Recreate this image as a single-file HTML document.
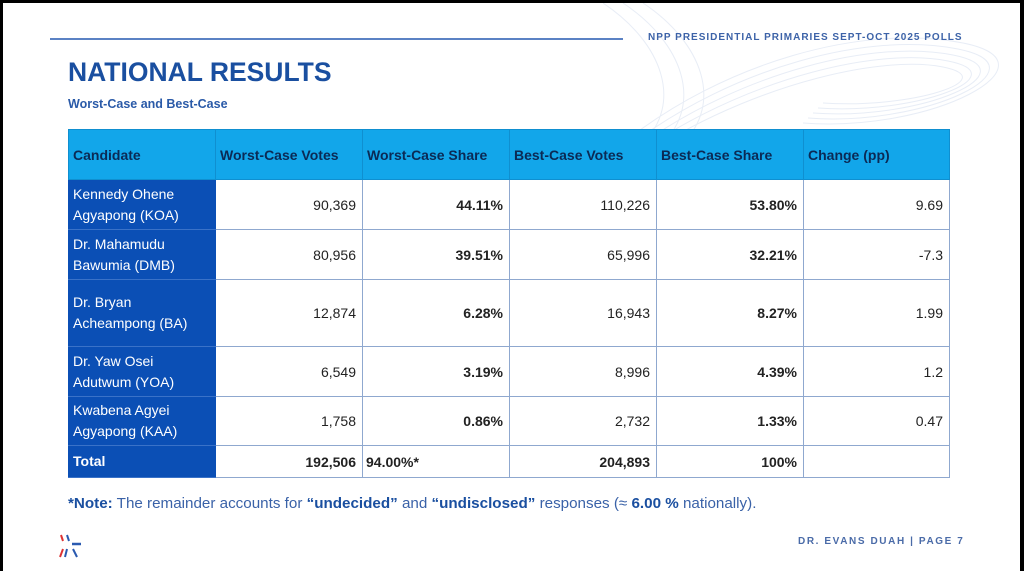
<!DOCTYPE html>
<html><head><meta charset="utf-8"><style>
*{margin:0;padding:0;box-sizing:border-box}
body{width:1024px;height:571px;background:#000;position:relative;overflow:hidden;font-family:"Liberation Sans",sans-serif}
#page{position:absolute;left:3px;top:3px;width:1017px;height:568px;background:#fff;overflow:hidden}
.abs{position:absolute}
table{position:absolute;left:65px;top:126px;border-collapse:collapse;width:882px}
td{border:1px solid #8fa8cf;font-size:14px;color:#222;padding:0 6px;text-align:right}
tr.h td{background:#12a6ea;color:#0b2a55;font-weight:bold;text-align:left;height:50px;border-color:#0f8fd0;padding-left:4px}
td.n{background:#0b4fb5;color:#fff;text-align:left;line-height:21px;border-color:#0b4fb5;border-bottom-color:#3a72c8;padding-left:4px}
b{font-weight:bold}
</style></head><body><div id="page">
<svg class="abs" style="left:600px;top:0" width="417" height="140">
<g fill="none" stroke="#e8edf6" stroke-width="1">
<path d="M20 140 C120 60 260 20 360 40 S330 130 200 120"/>
<path d="M30 140 C130 65 265 28 355 46 S325 124 205 115"/>
<path d="M40 140 C140 70 270 36 350 52 S320 118 210 110"/>
<path d="M50 140 C150 75 275 44 345 58 S315 112 215 105"/>
<path d="M60 140 C160 80 280 52 340 64 S310 106 220 100"/>
<path d="M0 0 C60 40 80 100 40 140"/>
<path d="M20 0 C80 40 100 100 60 140"/>
<path d="M40 0 C100 40 120 100 80 140"/>
</g></svg>
<div class="abs" style="left:47px;top:35px;width:573px;height:2px;background:#5b82c4"></div>
<div class="abs" style="left:645px;top:29px;font-size:10px;font-weight:bold;letter-spacing:1px;color:#3d63a8">NPP PRESIDENTIAL PRIMARIES SEPT-OCT 2025 POLLS</div>
<div class="abs" style="left:65px;top:54px;font-size:26.5px;font-weight:bold;color:#1a4fa0">NATIONAL RESULTS</div>
<div class="abs" style="left:65px;top:94px;font-size:12.5px;font-weight:bold;color:#2a5aa8">Worst-Case and Best-Case</div>
<table>
<tr class="h"><td style="width:147px">Candidate</td><td style="width:147px">Worst-Case Votes</td><td style="width:147px">Worst-Case Share</td><td style="width:147px">Best-Case Votes</td><td style="width:147px">Best-Case Share</td><td>Change (pp)</td></tr>
<tr style="height:50px"><td class="n">Kennedy Ohene<br>Agyapong (KOA)</td><td>90,369</td><td><b>44.11%</b></td><td>110,226</td><td><b>53.80%</b></td><td>9.69</td></tr>
<tr style="height:50px"><td class="n">Dr. Mahamudu<br>Bawumia (DMB)</td><td>80,956</td><td><b>39.51%</b></td><td>65,996</td><td><b>32.21%</b></td><td>-7.3</td></tr>
<tr style="height:67px"><td class="n">Dr. Bryan<br>Acheampong (BA)</td><td>12,874</td><td><b>6.28%</b></td><td>16,943</td><td><b>8.27%</b></td><td>1.99</td></tr>
<tr style="height:50px"><td class="n">Dr. Yaw Osei<br>Adutwum (YOA)</td><td>6,549</td><td><b>3.19%</b></td><td>8,996</td><td><b>4.39%</b></td><td>1.2</td></tr>
<tr style="height:49px"><td class="n">Kwabena Agyei<br>Agyapong (KAA)</td><td>1,758</td><td><b>0.86%</b></td><td>2,732</td><td><b>1.33%</b></td><td>0.47</td></tr>
<tr style="height:32px"><td class="n"><b>Total</b></td><td><b>192,506</b></td><td style="text-align:left;padding-left:3px"><b>94.00%*</b></td><td><b>204,893</b></td><td><b>100%</b></td><td></td></tr>
</table>
<div class="abs" style="left:65px;top:492px;font-size:15.2px;color:#3a62a8"><b style="color:#1a4fa0">*Note:</b> The remainder accounts for <b style="color:#1a4fa0">“undecided”</b> and <b style="color:#1a4fa0">“undisclosed”</b> responses (≈ <b style="color:#1a4fa0">6.00 %</b> nationally).</div>
<div class="abs" style="left:795px;top:533px;font-size:10px;font-weight:bold;letter-spacing:1.6px;color:#4a6ba8">DR. EVANS DUAH | PAGE 7</div>
<svg class="abs" style="left:52px;top:530px" width="30" height="30">
<line x1="6" y1="2" x2="8" y2="8" stroke="#d33" stroke-width="2"/>
<line x1="12" y1="2" x2="14" y2="8" stroke="#2a5ab0" stroke-width="2"/>
<line x1="17" y1="11" x2="26" y2="11" stroke="#2a5ab0" stroke-width="2.5"/>
<line x1="8" y1="16" x2="5" y2="24" stroke="#d33" stroke-width="2"/>
<line x1="12" y1="16" x2="10" y2="24" stroke="#2a5ab0" stroke-width="2"/>
<line x1="18" y1="16" x2="22" y2="24" stroke="#2a5ab0" stroke-width="2"/>
</svg>
</div></body></html>
